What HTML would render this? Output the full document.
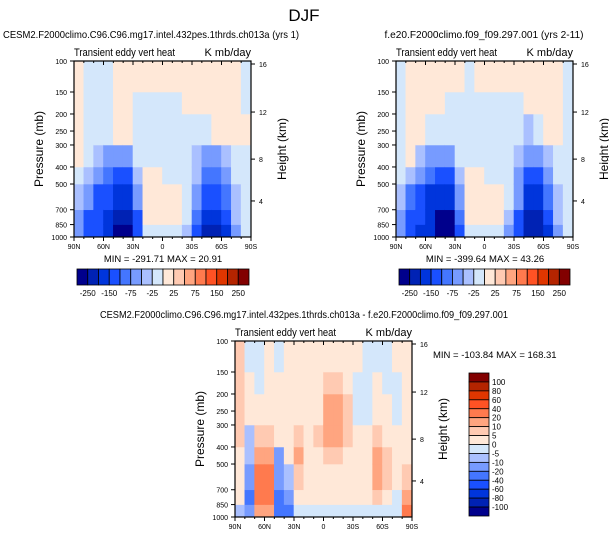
<!DOCTYPE html>
<html><head><meta charset="utf-8"><style>
body{margin:0;background:#fff;}
svg text{font-family:"Liberation Sans",sans-serif;fill:#000;}
</style></head><body>
<svg id="fig" width="609" height="538" xmlns="http://www.w3.org/2000/svg">
<text x="304" y="21" font-size="17" text-anchor="middle">DJF</text>
</svg>
<script>
// ---- data ----
const latCenters = [85,75,65,55,45,35,25,15,5,-5,-15,-25,-35,-45,-55,-65,-75,-85];
const pressureEdges = [1000,850,700,500,400,300,200,150,100];
const pressureTicks = [100,150,200,250,300,400,500,700,850,1000];
const heightTicks = [16,12,8,4];
const heightTickPressures = [104,195,361,624];
const latTickLabels = ["90N","60N","30N","0","30S","60S","90S"];
const latTickValues = [90,60,30,0,-30,-60,-90];
const levelsAbs = [-250,-200,-150,-100,-75,-50,-25,0,25,50,75,100,150,200,250];
const levelsAbsLabels = ["-250","-150","-75","-25","25","75","150","250"];
const levelsDiff = [-100,-80,-60,-40,-20,-10,-5,0,5,10,20,40,60,80,100];
const levelsDiffLabels = ["100","80","60","40","20","10","5","0","-5","-10","-20","-40","-60","-80","-100"];
const palette = ["#00008c","#0022b4","#0035dc","#1a50ff","#4476ff","#779bff","#aac0ff","#d4e7fb","#ffe8d8","#ffcab2","#ffa580","#ff7a4e","#ff5224","#e03600","#b42400","#820000"];
// rows per column: bands bottom->top (1000-850 ... 150-100)
const model1 = [
[-60,-60,-40,-20,10,10,10,10],
[-120,-110,-70,-40,-10,-5,-5,-5],
[-130,-120,-100,-60,-30,-10,-5,-5],
[-170,-160,-130,-80,-50,-10,-5,-5],
[-260,-230,-170,-110,-60,10,10,10],
[-270,-240,-160,-100,-60,10,10,10],
[-120,-100,-60,-30,-20,-10,-5,10],
[-10,10,10,10,-10,-10,-10,10],
[-10,10,10,10,-10,-10,-5,10],
[-10,10,10,-10,-10,-10,-10,10],
[-10,10,10,-10,-10,-10,-10,10],
[-40,-20,-20,-20,-20,-10,10,10],
[-120,-90,-60,-40,-30,-20,10,10],
[-200,-170,-120,-80,-50,-20,10,10],
[-220,-190,-130,-90,-60,10,10,10],
[-150,-120,-80,-60,-40,10,10,10],
[-50,-40,-30,-20,-10,10,10,10],
[-20,-10,-5,-5,-5,10,-5,-5]];
const model2 = [
[-70,-60,-40,-20,-10,-5,-5,-5],
[-140,-120,-80,-40,10,10,10,10],
[-160,-140,-110,-70,-30,10,10,10],
[-190,-180,-150,-90,-50,-15,10,10],
[-290,-260,-190,-120,-70,-20,10,10],
[-280,-250,-170,-110,-60,-15,-5,10],
[-110,-90,-50,-30,-20,-10,-5,10],
[-10,10,10,10,-10,-10,-10,-5],
[-10,10,10,10,-10,-10,-10,10],
[-10,10,10,-10,-10,-10,-10,10],
[-10,10,10,-10,-10,-20,-10,10],
[-50,-30,-20,-20,-20,-20,-10,10],
[-140,-110,-70,-50,-40,-20,-10,10],
[-230,-200,-150,-100,-60,-30,10,10],
[-240,-210,-150,-100,-70,-10,10,10],
[-160,-130,-90,-60,-40,10,10,10],
[-60,-40,-30,-20,-10,10,10,10],
[-20,-10,-5,-5,-5,-5,-5,-5]];
const diff = [
[-5,3,3,3,8,8,8,8],
[-10,-20,-15,-5,-5,3,3,-3],
[15,25,30,15,8,3,-3,-3],
[15,30,25,15,8,3,3,3],
[-20,-25,-15,-10,3,3,3,-3],
[-20,-15,-8,3,3,3,3,3],
[-3,3,8,12,8,3,3,3],
[-3,3,3,3,3,3,3,3],
[-3,3,3,3,8,3,3,3],
[-3,3,3,8,12,12,8,3],
[-3,3,3,8,12,12,8,3],
[-3,3,3,3,8,8,3,3],
[-3,3,3,3,3,-3,-3,3],
[-3,3,3,3,3,-3,-3,-3],
[-3,8,12,12,8,3,3,-3],
[-3,3,8,8,3,3,-3,-3],
[-3,-3,3,3,3,-3,-3,3],
[30,20,8,3,3,3,3,3]];

const NS="http://www.w3.org/2000/svg";
const svg=document.getElementById('fig');
function mk(tag,attrs,parent){const e=document.createElementNS(NS,tag);for(const k in attrs)e.setAttribute(k,attrs[k]);(parent||svg).appendChild(e);return e;}
function txt(x,y,s,size,anchor,parent){const t=mk('text',{x:x,y:y,'font-size':size,'text-anchor':anchor||'start'},parent);t.textContent=s;return t;}
function bin(v,levels){let i=0;while(i<levels.length&&v>levels[i])i++;return i;}

function panel(name,x0,y0,w,h,data,levels,title,titleX,titleLen,minmax,mmX,mmY,mmAnchor){
  const g=mk('g',{});
  
  
  const xs=lat=>x0+(90-lat)/180*w;
  const ys=p=>y0+(Math.log10(p)-2)*h;
  latCenters.forEach((lat,ci)=>{
    data[ci].forEach((v,ri)=>{
      const pb=pressureEdges[ri],pt=pressureEdges[ri+1];
      const r=mk('rect',{x:xs(lat+5)-0.3,y:ys(pt)-0.3,width:w/18+0.6,height:ys(pb)-ys(pt)+0.6,fill:palette[bin(v,levels)]},g);
      
      
    });
  });
  mk('rect',{x:x0,y:y0,width:w,height:h,fill:'none',stroke:'#000','stroke-width':1.2},g);
  const t1=txt(titleX,y0-23,title,10.5,'middle',g);
  t1.setAttribute('textLength',titleLen);
  t1.setAttribute('lengthAdjust','spacingAndGlyphs');
  
  
  const t2=txt(x0,y0-5,'Transient eddy vert heat',11,'start',g);
  t2.setAttribute('textLength',101);
  t2.setAttribute('lengthAdjust','spacingAndGlyphs');
  
  
  const t3=txt(x0+w,y0-5,'K mb/day',11,'end',g);
  
  
  pressureTicks.forEach(p=>{
    const y=ys(p);
    mk('line',{x1:x0,x2:x0-4,y1:y,y2:y,stroke:'#000'},g);
    const l=txt(x0-7,y+3,String(p),7,'end',g);
    
    
  });
  heightTicks.forEach((z,i)=>{
    const y=ys(heightTickPressures[i]);
    mk('line',{x1:x0+w,x2:x0+w+4,y1:y,y2:y,stroke:'#000'},g);
    const l=txt(x0+w+8,y+3,String(z),7,'start',g);
    
    
  });
  latTickValues.forEach((lat,i)=>{
    const x=xs(lat);
    mk('line',{x1:x,x2:x,y1:y0+h,y2:y0+h+4,stroke:'#000'},g);
    mk('line',{x1:x,x2:x,y1:y0,y2:y0+4,stroke:'#000'},g);
    const l=txt(x,y0+h+12,latTickLabels[i],7,'middle',g);
    
    
  });
  for(let lat=-90;lat<=90;lat+=10){const x=xs(lat);mk('line',{x1:x,x2:x,y1:y0+h,y2:y0+h+2,stroke:'#000'},g);mk('line',{x1:x,x2:x,y1:y0,y2:y0+2,stroke:'#000'},g);}
  const ya=txt(0,0,'Pressure (mb)',12,'middle',g);
  ya.setAttribute('transform',`translate(${x0-31},${y0+h/2}) rotate(-90)`);
  
  
  const yb=txt(0,0,'Height (km)',12,'middle',g);
  yb.setAttribute('transform',`translate(${x0+w+35},${y0+h/2}) rotate(-90)`);
  
  
  const mm=txt(mmX,mmY,minmax,9.5,mmAnchor,g);
  mm.setAttribute('xml:space','preserve');
  
  
}
function hbar(name,x0,y0,w,h,labels){
  const g=mk('g',{});
  
  
  const bw=w/16;
  palette.forEach((c,i)=>{const r=mk('rect',{x:x0+i*bw,y:y0,width:bw,height:h,fill:c,stroke:'#000','stroke-width':0.8},g);
    
    });
  labels.forEach((s,i)=>{const l=txt(x0+(2*i+1)*bw,y0+h+11,s,8,'middle',g);
    
    });
}
function vbar(name,x0,y0,w,h,labels){
  const g=mk('g',{});
  
  
  const bh=h/16;
  palette.slice().reverse().forEach((c,i)=>{const r=mk('rect',{x:x0,y:y0+i*bh,width:w,height:bh,fill:c,stroke:'#000','stroke-width':0.8},g);
    
    });
  labels.forEach((s,i)=>{const l=txt(x0+w+3,y0+(i+1)*bh+3,s,8,'start',g);
    
    });
}
panel('panel-cesm2',74,61,177,176,model1,levelsAbs,'CESM2.F2000climo.C96.C96.mg17.intel.432pes.1thrds.ch013a (yrs 1)',151,296,'MIN = -291.71  MAX =  20.91',163,262,'middle');
panel('panel-f09',396,61,177,176,model2,levelsAbs,'f.e20.F2000climo.f09_f09.297.001 (yrs 2-11)',484,199,'MIN = -399.64  MAX =  43.26',485,262,'middle');
panel('panel-difference',235,341,177,176,diff,levelsDiff,'CESM2.F2000climo.C96.C96.mg17.intel.432pes.1thrds.ch013a - f.e20.F2000climo.f09_f09.297.001',304,408,'MIN = -103.84  MAX = 168.31',433,358,'start');
hbar('colorbar-cesm2',77,269,172,16,levelsAbsLabels);
hbar('colorbar-f09',399,269,171,16,levelsAbsLabels);
vbar('colorbar-difference',469,373,20,143,levelsDiffLabels);
</script>
</body></html>
